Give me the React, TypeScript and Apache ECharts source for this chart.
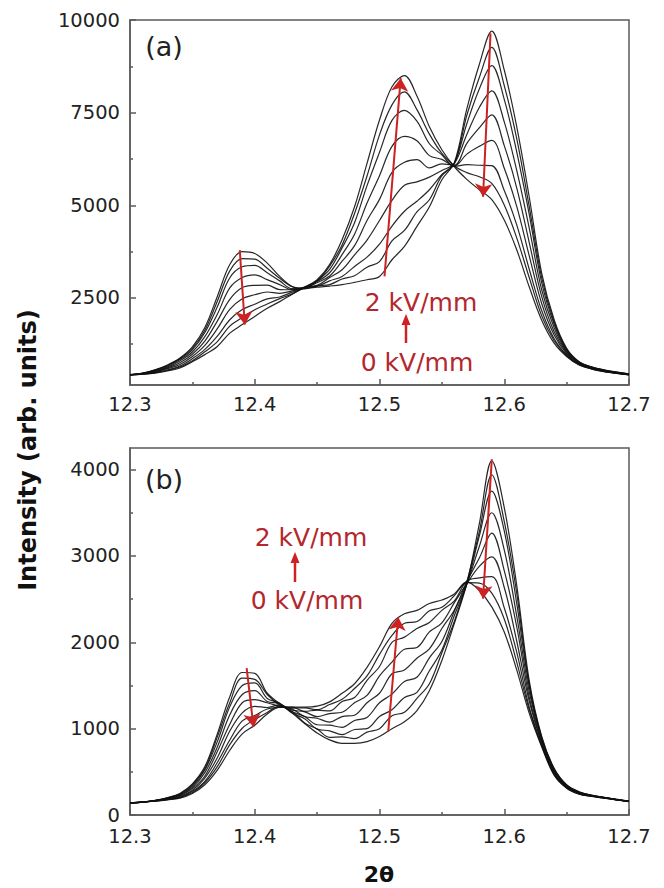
import React, { useEffect, useRef } from 'react';
import * as echarts from 'echarts';

// 2θ sampling grid (degrees)
const twoTheta = [
  12.30, 12.31, 12.32, 12.33, 12.34, 12.35, 12.36, 12.37, 12.38, 12.39,
  12.40, 12.41, 12.42, 12.43, 12.44, 12.45, 12.46, 12.47, 12.48, 12.49,
  12.50, 12.51, 12.52, 12.53, 12.54, 12.55, 12.56, 12.57, 12.58, 12.59,
  12.60, 12.61, 12.62, 12.63, 12.64, 12.65, 12.66, 12.67, 12.68, 12.69, 12.70,
];

const fieldSteps = ['0', '0.25', '0.5', '0.75', '1.0', '1.25', '1.5', '1.75', '2.0'];

// Panel (a) intensities, one array per applied field (kV/mm)
const a_0_00 = [430, 470, 560, 690, 880, 1180, 1700, 2540, 3400, 3750, 3700, 3440, 3080, 2810, 2760, 2790, 2820, 2860, 2920, 2990, 3080, 3530, 3890, 4430, 4960, 5690, 6150, 7600, 8800, 9700, 8650, 7120, 5230, 3170, 1910, 1140, 780, 640, 560, 500, 450];
const a_0_25 = [428, 466, 552, 676, 860, 1140, 1630, 2410, 3230, 3560, 3545, 3300, 3030, 2800, 2745, 2830, 2860, 3010, 3100, 3330, 3480, 4040, 4320, 4820, 5150, 5800, 6120, 7430, 8450, 9260, 8230, 6800, 4970, 3050, 1850, 1120, 770, 635, 555, 496, 447];
const a_0_50 = [427, 463, 545, 655, 835, 1100, 1565, 2260, 3045, 3340, 3380, 3180, 2960, 2750, 2780, 2815, 2960, 3080, 3350, 3600, 3950, 4440, 4840, 5110, 5420, 5830, 6140, 7200, 8140, 8770, 7860, 6440, 4760, 2910, 1790, 1090, 765, 626, 548, 491, 444];
const a_0_75 = [426, 461, 530, 632, 800, 1040, 1455, 2060, 2770, 3050, 3120, 2995, 2860, 2720, 2790, 2840, 3050, 3260, 3660, 4060, 4590, 5130, 5540, 5630, 5760, 5940, 6130, 6910, 7640, 8090, 7250, 5940, 4390, 2720, 1695, 1060, 748, 620, 543, 486, 440];
const a_1_00 = [425, 456, 512, 612, 750, 980, 1335, 1875, 2460, 2780, 2840, 2845, 2725, 2720, 2760, 2910, 3090, 3490, 3910, 4590, 5160, 5890, 6160, 6230, 6010, 6120, 6080, 6670, 7090, 7440, 6610, 5470, 4000, 2540, 1590, 1030, 736, 611, 535, 480, 435];
const a_1_25 = [424, 451, 500, 590, 705, 920, 1220, 1670, 2190, 2480, 2585, 2660, 2625, 2690, 2765, 2940, 3180, 3670, 4220, 5060, 5800, 6590, 6860, 6740, 6340, 6240, 6060, 6380, 6590, 6750, 6000, 4970, 3640, 2350, 1500, 995, 722, 600, 528, 474, 431];
const a_1_50 = [422, 447, 486, 562, 660, 860, 1110, 1468, 1910, 2185, 2330, 2475, 2525, 2655, 2770, 2965, 3270, 3850, 4530, 5530, 6430, 7290, 7560, 7270, 6660, 6360, 6050, 6095, 6080, 6070, 5400, 4470, 3280, 2160, 1400, 965, 707, 592, 520, 468, 426];
const a_1_75 = [421, 442, 480, 542, 635, 805, 1045, 1320, 1740, 1970, 2180, 2335, 2480, 2610, 2795, 2960, 3360, 3930, 4780, 5790, 6900, 7710, 8060, 7580, 6920, 6400, 6060, 5880, 5770, 5590, 5010, 4120, 3050, 2020, 1345, 940, 699, 586, 515, 464, 423];
const a_2_00 = [420, 440, 470, 528, 610, 780, 970, 1190, 1550, 1780, 2000, 2220, 2400, 2600, 2790, 2990, 3400, 4070, 4960, 6130, 7300, 8200, 8500, 7950, 7120, 6500, 6040, 5700, 5420, 5150, 4600, 3800, 2800, 1900, 1280, 920, 690, 580, 510, 460, 420];

// Panel (b) intensities
const b_0_00 = [140, 150, 170, 200, 250, 360, 560, 940, 1370, 1650, 1640, 1410, 1290, 1180, 1060, 950, 870, 830, 830, 850, 910, 1000, 1080, 1210, 1440, 1790, 2220, 2680, 3370, 4100, 3560, 2660, 1560, 910, 540, 350, 270, 230, 205, 180, 160];
const b_0_25 = [141, 150, 168, 199, 244, 352, 535, 905, 1300, 1585, 1570, 1395, 1270, 1200, 1065, 995, 900, 905, 885, 960, 1000, 1150, 1190, 1350, 1520, 1880, 2240, 2700, 3280, 3940, 3400, 2570, 1515, 900, 532, 346, 267, 229, 204, 180, 160];
const b_0_50 = [139, 151, 168, 196, 240, 336, 522, 850, 1255, 1500, 1530, 1350, 1295, 1180, 1115, 995, 975, 930, 990, 1000, 1140, 1220, 1360, 1420, 1670, 1910, 2310, 2670, 3230, 3750, 3290, 2450, 1490, 884, 524, 342, 264, 227, 203, 179, 159];
const b_0_75 = [140, 149, 167, 190, 232, 320, 490, 788, 1160, 1395, 1440, 1315, 1290, 1195, 1140, 1045, 1040, 1015, 1095, 1130, 1300, 1400, 1545, 1595, 1820, 2010, 2360, 2675, 3110, 3500, 3070, 2305, 1430, 866, 512, 336, 260, 225, 202, 178, 158];
const b_1_00 = [140, 150, 165, 187, 224, 306, 452, 735, 1052, 1300, 1335, 1300, 1258, 1228, 1140, 1120, 1075, 1140, 1155, 1300, 1410, 1635, 1680, 1815, 1925, 2160, 2375, 2700, 2975, 3265, 2830, 2180, 1365, 852, 500, 330, 255, 223, 200, 178, 158];
const b_1_25 = [140, 150, 164, 184, 215, 287, 428, 662, 972, 1182, 1258, 1245, 1275, 1215, 1195, 1140, 1175, 1190, 1300, 1385, 1610, 1770, 1920, 1940, 2120, 2225, 2460, 2680, 2880, 2990, 2635, 2015, 1318, 830, 488, 324, 251, 220, 199, 177, 157];
const b_1_50 = [139, 150, 162, 181, 205, 274, 390, 608, 868, 1090, 1152, 1228, 1245, 1250, 1200, 1215, 1205, 1315, 1360, 1560, 1720, 2000, 2060, 2160, 2230, 2370, 2480, 2710, 2745, 2760, 2400, 1885, 1250, 815, 476, 318, 246, 218, 197, 176, 156];
const b_1_75 = [140, 150, 161, 178, 202, 260, 373, 560, 815, 1005, 1105, 1188, 1262, 1238, 1240, 1220, 1280, 1340, 1465, 1610, 1860, 2080, 2220, 2240, 2365, 2405, 2540, 2690, 2685, 2570, 2270, 1770, 1222, 800, 468, 314, 243, 217, 196, 176, 156];
const b_2_00 = [140, 150, 160, 175, 195, 250, 350, 520, 750, 940, 1040, 1170, 1250, 1250, 1250, 1260, 1310, 1410, 1520, 1710, 1950, 2220, 2330, 2370, 2450, 2490, 2560, 2700, 2600, 2410, 2120, 1680, 1180, 790, 460, 310, 240, 215, 195, 175, 155];

// Axis ticks
const xMin = 12.3;
const xMax = 12.7;
const yMajorA = [2500, 5000, 7500, 10000];
const yMinorA = [1250, 3750, 6250, 8750];
const yMajorB = [0, 1000, 2000, 3000, 4000];
const yMinorB = [500, 1500, 2500, 3500];

// Red arrows (start -> end) in data coordinates
const arrowsA = [
  [[12.388, 3790], [12.392, 1780]],
  [[12.504, 3080], [12.517, 8430]],
  [[12.589, 9640], [12.583, 5230]],
];
const arrowsB = [
  [[12.3935, 1700], [12.399, 1020]],
  [[12.507, 965], [12.515, 2290]],
  [[12.590, 4120], [12.583, 2505]],
];

const curvesA = [a_0_00, a_0_25, a_0_50, a_0_75, a_1_00, a_1_25, a_1_50, a_1_75, a_2_00];
const curvesB = [b_0_00, b_0_25, b_0_50, b_0_75, b_1_00, b_1_25, b_1_50, b_1_75, b_2_00];

const FONT = 'DejaVu Sans';
const AXIS = '#5a5a5a';
const RED_LINE = '#cc2222';
const RED_TEXT = '#b3282e';

export default function App() {
  const ref = useRef<HTMLDivElement>(null);

  useEffect(() => {
    if (!ref.current) return;
    const chart = echarts.init(ref.current, undefined, { renderer: 'svg' });

    const toPairs = (ys: number[]) => ys.map((y, i) => [twoTheta[i], y]);

    const curveSeries = (list: number[][], xi: number, yi: number, tag: string) =>
      list.map((ys, k) => ({
        name: `${tag} ${fieldSteps[k]} kV/mm`,
        type: 'line',
        xAxisIndex: xi,
        yAxisIndex: yi,
        data: toPairs(ys),
        showSymbol: false,
        symbol: 'none',
        smooth: 0.35,
        silent: true,
        z: 2,
        lineStyle: { color: '#111', width: 1.2, opacity: 0.9 },
      }));

    const arrowSeries = (arrows: number[][][], xi: number, yi: number) => ({
      type: 'line',
      xAxisIndex: xi,
      yAxisIndex: yi,
      data: [],
      silent: true,
      z: 5,
      markLine: {
        silent: true,
        symbol: ['none', 'arrow'],
        symbolSize: 13,
        label: { show: false },
        lineStyle: { color: RED_LINE, width: 2, type: 'solid' },
        itemStyle: { color: RED_LINE },
        emphasis: { disabled: true },
        data: arrows.map(([s, e]) => [{ coord: s }, { coord: e }]),
      },
    });

    const xAxis = (gridIndex: number, margin: number) => ({
      gridIndex,
      type: 'value',
      min: xMin,
      max: xMax,
      interval: 0.1,
      axisLine: { show: true, onZero: false, lineStyle: { color: AXIS, width: 1.5 } },
      axisTick: { show: true, inside: true, length: 6, lineStyle: { color: AXIS, width: 1.5 } },
      minorTick: { show: true, splitNumber: 2, length: 3, lineStyle: { color: AXIS, width: 1.5 } },
      axisLabel: {
        fontSize: 19.5,
        fontFamily: FONT,
        color: '#222',
        margin,
        formatter: (v: number) => v.toFixed(1),
      },
      splitLine: { show: false },
      minorSplitLine: { show: false },
    });

    const yAxisMajor = (gridIndex: number, min: number, max: number, ticks: number[]) => ({
      gridIndex,
      type: 'value',
      position: 'left',
      min,
      max,
      axisLine: { show: true, onZero: false, lineStyle: { color: AXIS, width: 1.5 } },
      axisTick: { show: true, inside: true, length: 6, customValues: ticks, lineStyle: { color: AXIS, width: 1.5 } },
      axisLabel: {
        customValues: ticks,
        fontSize: 19.5,
        fontFamily: FONT,
        color: '#222',
        margin: 10,
        formatter: (v: number) => String(Math.round(v)),
      },
      splitLine: { show: false },
    });

    const yAxisMinor = (gridIndex: number, min: number, max: number, ticks: number[]) => ({
      gridIndex,
      type: 'value',
      position: 'left',
      min,
      max,
      axisLine: { show: false },
      axisTick: { show: true, inside: true, length: 3, customValues: ticks, lineStyle: { color: AXIS, width: 1.5 } },
      axisLabel: { show: false },
      splitLine: { show: false },
    });

    const text = (t: string, x: number, y: number, font: string, fill: string, extra: any = {}) => ({
      type: 'text',
      x,
      y,
      silent: true,
      z: 10,
      ...extra,
      style: {
        text: t,
        font,
        fill,
        textAlign: 'center',
        textVerticalAlign: 'middle',
        align: 'center',
        verticalAlign: 'middle',
      },
    });

    const redFont = `25px "${FONT}"`;

    chart.setOption({
      animation: false,
      grid: [
        { left: 130, right: 35, top: 20, height: 365, show: true, borderColor: AXIS, borderWidth: 1.5, backgroundColor: 'transparent' },
        { left: 130, right: 35, top: 448, height: 367, show: true, borderColor: AXIS, borderWidth: 1.5, backgroundColor: 'transparent' },
      ],
      xAxis: [xAxis(0, 9), xAxis(1, 11)],
      yAxis: [
        yAxisMajor(0, 150, 10000, yMajorA),
        yAxisMinor(0, 150, 10000, yMinorA),
        yAxisMajor(1, 0, 4250, yMajorB),
        yAxisMinor(1, 0, 4250, yMinorB),
      ],
      series: [
        ...curveSeries(curvesA, 0, 0, '(a)'),
        ...curveSeries(curvesB, 1, 2, '(b)'),
        arrowSeries(arrowsA, 0, 0),
        arrowSeries(arrowsB, 1, 2),
      ],
      graphic: [
        text('(a)', 164, 46, `27px "${FONT}"`, '#222'),
        text('(b)', 164, 479, `27px "${FONT}"`, '#222'),
        text('Intensity (arb. units)', 28, 450, `bold 24px "${FONT}"`, '#111', { rotation: Math.PI / 2 }),
        text('2θ', 379, 874, `bold 22px "${FONT}"`, '#111'),
        text('2 kV/mm', 421, 302, redFont, RED_TEXT),
        text('0 kV/mm', 417, 362, redFont, RED_TEXT),
        { type: 'line', silent: true, z: 10, shape: { x1: 406, y1: 343, x2: 406, y2: 323 }, style: { stroke: RED_LINE, lineWidth: 2.5 } },
        { type: 'polygon', silent: true, z: 10, shape: { points: [[401.5, 325], [410.5, 325], [406, 314]] }, style: { fill: RED_LINE } },
        text('2 kV/mm', 311, 537, redFont, RED_TEXT),
        text('0 kV/mm', 307, 600, redFont, RED_TEXT),
        { type: 'line', silent: true, z: 10, shape: { x1: 295, y1: 582, x2: 295, y2: 561 }, style: { stroke: RED_LINE, lineWidth: 2.5 } },
        { type: 'polygon', silent: true, z: 10, shape: { points: [[290.5, 563], [299.5, 563], [295, 552]] }, style: { fill: RED_LINE } },
      ],
    });

    return () => chart.dispose();
  }, []);

  return <div ref={ref} style={{ position: 'absolute', left: 0, top: 0, width: 664, height: 888 }} />;
}
